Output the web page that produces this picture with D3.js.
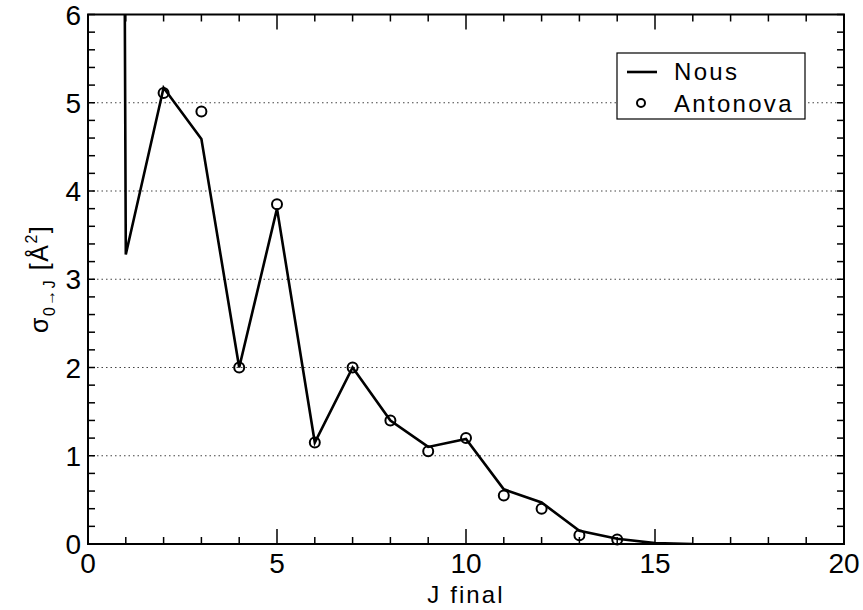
<!DOCTYPE html>
<html>
<head>
<meta charset="utf-8">
<script src="https://cdn.jsdelivr.net/npm/d3@7"></script>
<style>
  body { margin: 0; background: #fff; }
  text { font-family: "Liberation Sans", Arial, sans-serif; fill: #000; }
</style>
</head>
<body>
<script>
// courbe calculée (Nous)
const jNous = [0, 1, 2, 3, 4, 5, 6, 7, 8, 9, 10, 11, 12, 13, 14, 15, 16];
const sigmaNous = [108, 3.28, 5.17, 4.59, 2.0, 3.8, 1.15, 2.0, 1.4, 1.1, 1.19, 0.62, 0.47, 0.15, 0.06, 0.01, 0.0];

// points expérimentaux (Antonova)
const jAnto = [2, 3, 4, 5, 6, 7, 8, 9, 10, 11, 12, 13, 14];
const sigmaAnto = [5.11, 4.9, 2.0, 3.85, 1.15, 2.0, 1.4, 1.05, 1.2, 0.55, 0.4, 0.1, 0.05];

const xTicks = [0, 5, 10, 15, 20];
const yTicks = [0, 1, 2, 3, 4, 5, 6];
const grille = [1, 2, 3, 4, 5];

const largura = 863, altura = 610;
const m = { c: 14.5, d: 19, b: 66, e: 88 };
const w = largura - m.e - m.d, h = altura - m.c - m.b;

const svg = d3.select("body").append("svg")
  .attr("width", largura)
  .attr("height", altura);

const g = svg.append("g")
  .attr("transform", "translate(" + m.e + "," + m.c + ")");

const x = d3.scaleLinear().domain([0, 20]).range([0, w]);
const y = d3.scaleLinear().domain([0, 6]).range([h, 0]);

// grille pointillée
g.selectAll(".grille")
  .data(grille)
  .enter().append("line")
  .attr("x1", 0).attr("x2", w)
  .attr("y1", d => y(d)).attr("y2", d => y(d))
  .attr("stroke", "#444")
  .attr("stroke-width", 1.2)
  .attr("stroke-dasharray", "1.5,3");

// ticks x (bas et haut)
const xMin = d3.range(0, 21, 1);
[h, 0].forEach(function(pos) {
  const dir = pos === 0 ? 1 : -1;
  g.selectAll(null)
    .data(xMin)
    .enter().append("line")
    .attr("x1", d => x(d)).attr("x2", d => x(d))
    .attr("y1", pos)
    .attr("y2", d => pos + dir * (d % 5 === 0 ? 15 : 7))
    .attr("stroke", "#000")
    .attr("stroke-width", 1.5);
});

// ticks y (gauche et droite)
const yMin = d3.range(0, 31).map(d => d / 5);
[0, w].forEach(function(pos) {
  const dir = pos === 0 ? 1 : -1;
  g.selectAll(null)
    .data(yMin)
    .enter().append("line")
    .attr("y1", d => y(d)).attr("y2", d => y(d))
    .attr("x1", pos)
    .attr("x2", pos + dir * 7)
    .attr("stroke", "#000")
    .attr("stroke-width", 1.5);
});

// cadre
g.append("rect")
  .attr("width", w).attr("height", h)
  .attr("fill", "none")
  .attr("stroke", "#000")
  .attr("stroke-width", 2);

// étiquettes des axes
g.selectAll(".xl")
  .data(xTicks)
  .enter().append("text")
  .attr("x", d => x(d))
  .attr("y", h + 29)
  .attr("text-anchor", "middle")
  .attr("font-size", 28)
  .text(d => d);

g.selectAll(".yl")
  .data(yTicks)
  .enter().append("text")
  .attr("x", -7)
  .attr("y", d => y(d) + 10)
  .attr("text-anchor", "end")
  .attr("font-size", 28)
  .text(d => d);

svg.append("text")
  .attr("x", m.e + w / 2)
  .attr("y", 603)
  .attr("text-anchor", "middle")
  .attr("font-size", 24)
  .attr("letter-spacing", 2.1)
  .text("J final");

const yt = svg.append("text")
  .attr("transform", "translate(48,333) rotate(-90)")
  .attr("font-size", 25)
  .attr("letter-spacing", 1.5);
yt.append("tspan").text("σ");
yt.append("tspan").attr("font-size", 16).attr("dy", 7).text("0→J");
yt.append("tspan").attr("dy", -7).text(" [Å");
yt.append("tspan").attr("font-size", 16).attr("dy", -11).text("2");
yt.append("tspan").attr("dy", 11).text("]");

// courbe
g.append("clipPath").attr("id", "zone")
  .append("rect").attr("width", w).attr("height", h);

const linha = d3.line()
  .x((d, i) => x(jNous[i]))
  .y(d => y(d));

g.append("path")
  .datum(sigmaNous)
  .attr("clip-path", "url(#zone)")
  .attr("d", linha)
  .attr("fill", "none")
  .attr("stroke", "#000")
  .attr("stroke-width", 2.6)
  .attr("stroke-linejoin", "miter");

g.selectAll(".pt")
  .data(sigmaAnto)
  .enter().append("circle")
  .attr("cx", (d, i) => x(jAnto[i]))
  .attr("cy", d => y(d))
  .attr("r", 5)
  .attr("fill", "none")
  .attr("stroke", "#000")
  .attr("stroke-width", 2);

// légende
const leg = svg.append("g");
leg.append("rect")
  .attr("x", 617).attr("y", 53)
  .attr("width", 188).attr("height", 66)
  .attr("fill", "#fff")
  .attr("stroke", "#000")
  .attr("stroke-width", 1.2);
leg.append("line")
  .attr("x1", 627).attr("x2", 657)
  .attr("y1", 72).attr("y2", 72)
  .attr("stroke", "#000").attr("stroke-width", 2.6);
leg.append("circle")
  .attr("cx", 641).attr("cy", 103).attr("r", 4)
  .attr("fill", "none").attr("stroke", "#000").attr("stroke-width", 2);
leg.append("text").attr("x", 674).attr("y", 80).attr("font-size", 24).attr("letter-spacing", 2.3).text("Nous");
leg.append("text").attr("x", 674).attr("y", 112).attr("font-size", 24).attr("letter-spacing", 2.3).text("Antonova");
</script>
</body>
</html>
